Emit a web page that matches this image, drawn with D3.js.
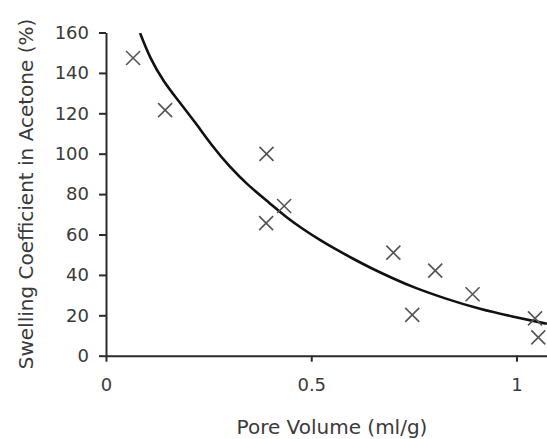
<!DOCTYPE html>
<html>
<head>
<meta charset="utf-8">
<script src="https://cdn.jsdelivr.net/npm/d3@7"></script>
<style>
  body { margin: 0; background: #fff; }
  svg text { font-family: "DejaVu Sans", Verdana, sans-serif; fill: #3a3a3a; }
</style>
</head>
<body>
<svg id="chart" width="547" height="439"></svg>
<script>
// measured points (pore volume ml/g, swelling %)
const poreVolume = [0.066, 0.144, 0.391, 0.390, 0.434, 0.700, 0.802, 0.746, 0.893, 1.045, 1.053];
const swelling = [147.4, 121.6, 99.9, 65.6, 74.1, 51.0, 42.1, 20.2, 30.4, 18.5, 9.1];

// trend line
const trendX = [0.083, 0.107, 0.140, 0.180, 0.221, 0.261, 0.302, 0.343, 0.400, 0.440, 0.481, 0.521, 0.562, 0.602, 0.643, 0.700, 0.749, 0.830, 0.911, 0.992, 1.074];
const trendY = [159.7, 147.3, 135.7, 125.3, 114.5, 103.2, 93.3, 84.9, 75.3, 68.4, 62.5, 57.3, 52.4, 48.0, 43.6, 38.2, 33.8, 28.0, 23.0, 19.3, 15.8];

const xTicks = [0, 0.5, 1];
const yTicks = [0, 20, 40, 60, 80, 100, 120, 140, 160];

const svg = d3.select("#chart");
const margin = { top: 32.5, right: 0, bottom: 83.3, left: 106 };
const width = 547 - margin.left - margin.right;
const height = 439 - margin.top - margin.bottom;

const g = svg.append("g").attr("transform", `translate(${margin.left},${margin.top})`);

const x = d3.scaleLinear().domain([0, 1.0743]).range([0, width]);
const y = d3.scaleLinear().domain([0, 160]).range([height, 0]);

const yAxis = g.append("g")
  .call(d3.axisLeft(y).tickValues(yTicks).tickSize(7).tickPadding(10).tickSizeOuter(0));

const xAxis = g.append("g")
  .attr("transform", `translate(0,${height})`)
  .call(d3.axisBottom(x).tickValues(xTicks).tickFormat(d3.format("")).tickSize(6).tickPadding(17).tickSizeOuter(0));

[xAxis, yAxis].forEach(a => {
  a.selectAll("path, line").attr("stroke", "#2a2a2a").attr("stroke-width", 2);
  a.selectAll("text").style("font-size", "18px").attr("fill", "#3a3a3a");
});

const line = d3.line()
  .x((d, i) => x(trendX[i]))
  .y(d => y(d))
  .curve(d3.curveBasis);

g.append("path")
  .datum(trendY)
  .attr("d", line)
  .attr("fill", "none")
  .attr("stroke", "#111")
  .attr("stroke-width", 2.6);

const s = 7;
g.selectAll(".pt")
  .data(poreVolume.map((v, i) => [v, swelling[i]]))
  .join("path")
  .attr("class", "pt")
  .attr("d", d => {
    const cx = x(d[0]), cy = y(d[1]);
    return `M${cx - s},${cy - s}L${cx + s},${cy + s}M${cx - s},${cy + s}L${cx + s},${cy - s}`;
  })
  .attr("stroke", "#555")
  .attr("stroke-width", 1.6)
  .attr("fill", "none");

svg.append("text")
  .attr("x", 332)
  .attr("y", 434)
  .attr("text-anchor", "middle")
  .style("font-size", "20px")
  .text("Pore Volume (ml/g)");

svg.append("text")
  .attr("transform", "translate(26,194) rotate(-90)")
  .attr("dy", "0.35em")
  .attr("text-anchor", "middle")
  .style("font-size", "20px")
  .text("Swelling Coefficient in Acetone (%)");
</script>
</body>
</html>
